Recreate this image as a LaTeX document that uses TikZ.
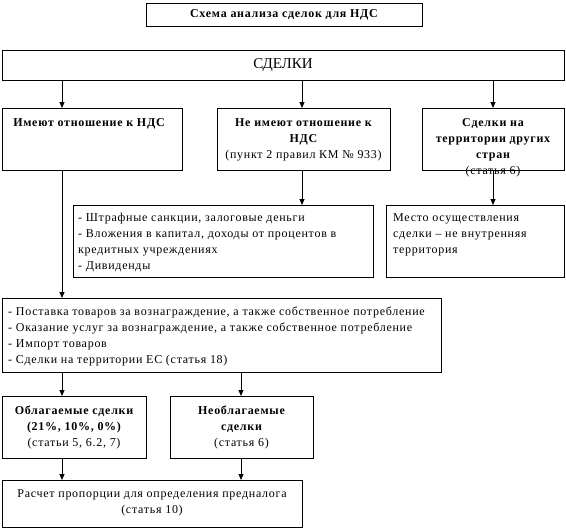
\documentclass[tikz,border=0pt]{standalone}
\usepackage{fontspec}
\setmainfont{Liberation Serif}[LetterSpace=6]
\newfontfamily\bigfont{Liberation Serif}
\usetikzlibrary{arrows.meta}
\tikzset{
  box/.style={draw, line width=0.8pt, inner sep=0pt, outer sep=0pt, anchor=north west},
  lbl/.style={inner sep=0pt, align=center, font=\fontsize{12}{16}\selectfont},
  lbll/.style={inner sep=0pt, align=left, font=\fontsize{12}{16}\selectfont},
  arr/.style={line width=0.8pt, -{Triangle[length=6pt,width=5pt]}},
  ln/.style={line width=0.8pt}
}
\begin{document}
\begin{tikzpicture}[x=1pt,y=-1pt]
\useasboundingbox (0,0) rectangle (566,530);
% boxes
\node[box, minimum width=276pt, minimum height=23pt] (title) at (146,3) {};
\node[box, minimum width=562pt, minimum height=30pt] (sdelki) at (2,50) {};
\node[box, minimum width=180pt, minimum height=62pt] (b1) at (2,108) {};
\node[box, minimum width=173pt, minimum height=62pt] (b2) at (217,108) {};
\node[box, minimum width=142pt, minimum height=62pt] (b3) at (422,108) {};
\node[box, minimum width=300pt, minimum height=72pt] (b4) at (73,205) {};
\node[box, minimum width=178pt, minimum height=72pt] (b5) at (386,205) {};
\node[box, minimum width=439pt, minimum height=74pt] (b6) at (2,298) {};
\node[box, minimum width=144pt, minimum height=62pt] (b7) at (2,396) {};
\node[box, minimum width=143pt, minimum height=62pt] (b8) at (170,396) {};
\node[box, minimum width=300pt, minimum height=47pt] (b9) at (2,480) {};
% texts
\node[lbl, font=\fontsize{12}{14}\selectfont\bfseries, anchor=center] (ttitle) at (title.center) {Схема анализа сделок для НДС};
\node[lbl, font=\bigfont\fontsize{15}{18}\selectfont, anchor=center] (tsdelki) at (sdelki.center) {СДЕЛКИ};
\node[lbl, anchor=north] (t1) at ([xshift=-3pt,yshift=-10pt]b1.north) {\bfseries Имеют отношение к НДС};
\node[lbl, anchor=north] (t2) at ([yshift=-10pt]b2.north) {\bfseries Не имеют отношение к\\\bfseries НДС\\(пункт 2 правил КМ № 933)};
\node[lbl, anchor=north] (t3) at ([yshift=-10pt]b3.north) {\bfseries Сделки на\\\bfseries территории других\\\bfseries стран\\(статья 6)};
\node[lbll, anchor=north west] (t4) at ([xshift=5pt,yshift=-8pt]b4.north west) {- Штрафные санкции, залоговые деньги\\- Вложения в капитал, доходы от процентов в\\кредитных учреждениях\\- Дивиденды};
\node[lbll, anchor=north west] (t5) at ([xshift=7pt,yshift=-8pt]b5.north west) {Место осуществления\\сделки – не внутренняя\\территория};
\node[lbll, anchor=north west] (t6) at ([xshift=6pt,yshift=-9pt]b6.north west) {- Поставка товаров за вознаграждение, а также собственное потребление\\- Оказание услуг за вознаграждение, а также собственное потребление\\- Импорт товаров\\- Сделки на территории ЕС (статья 18)};
\node[lbl, anchor=north] (t7) at ([yshift=-10pt]b7.north) {\bfseries Облагаемые сделки\\\bfseries (21\%, 10\%, 0\%)\\(статьи 5, 6.2, 7)};
\node[lbl, anchor=north] (t8) at ([yshift=-10pt]b8.north) {\bfseries Необлагаемые\\\bfseries сделки\\(статья 6)};
\node[lbl, anchor=north] (t9) at ([yshift=-9pt]b9.north) {Расчет пропорции для определения предналога\\(статья 10)};
% x positions
\coordinate (xa) at (62,0);
\coordinate (xb) at (302,0);
\coordinate (xc) at (493,0);
\coordinate (xd) at (241,0);
% connectors
\draw[arr] (sdelki.south -| xa) -- (b1.north -| xa);
\draw[arr] (sdelki.south -| xb) -- (b2.north -| xb);
\draw[arr] (sdelki.south -| xc) -- (b3.north -| xc);
\draw[arr] (b2.south -| xb) -- (b4.north -| xb);
\draw[arr] (b3.south -| xc) -- (b5.north -| xc);
\draw[arr] (b1.south -| xa) -- (b6.north -| xa);
\draw[arr] (b6.south -| xa) -- (b7.north -| xa);
\draw[arr] (b6.south -| xd) -- (b8.north -| xd);
\draw[arr] (b7.south -| xa) -- (b9.north -| xa);
\draw[arr] (b8.south -| xd) -- (b9.north -| xd);
\end{tikzpicture}
\end{document}
